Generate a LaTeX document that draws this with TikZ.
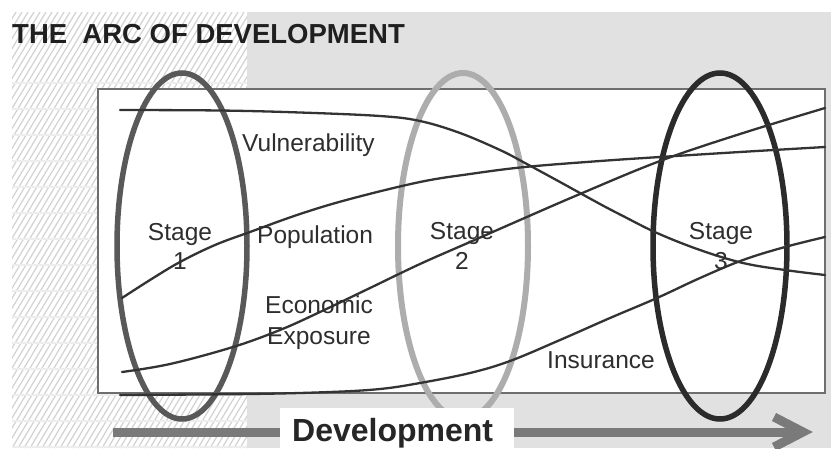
\documentclass[tikz,border=0pt]{standalone}
\usepackage{fontspec}
\setmainfont{Liberation Sans}
\definecolor{bggrey}{HTML}{E1E1E1}
\definecolor{hatchcol}{HTML}{D2D2D2}
\definecolor{boxline}{HTML}{6E6E6E}
\definecolor{stageA}{HTML}{595959}
\definecolor{stageB}{HTML}{ADADAD}
\definecolor{stageC}{HTML}{2B2B2B}
\definecolor{curvecol}{HTML}{333333}
\definecolor{textcol}{HTML}{2E2E2E}
\definecolor{arrowcol}{HTML}{7A7A7A}
\tikzset{
  stagering/.style={line width=5.5pt},
  curveline/.style={curvecol, line width=2.3pt, line cap=round},
  lbl/.style={anchor=base west, inner sep=0pt, text=textcol, font=\fontsize{24.5}{28}\selectfont},
  stagelbl/.style={anchor=base, inner sep=0pt, text=textcol, font=\fontsize{24.5}{28}\selectfont},
}
\begin{document}
\begin{tikzpicture}[x=1pt,y=-1pt]
\useasboundingbox (0,0) rectangle (831,448);
% background
\fill[white] (0,0) rectangle (831,448);
\fill[bggrey] (247,12) rectangle (831,448);
\begin{scope}
  \clip (12,12) rectangle (247,448);
  \foreach \i in {-300,-294,...,250} \draw[hatchcol, line width=1.2pt] (\i,448) -- ++(262,-436);
  \foreach \j in {83,109,...,448} \draw[white!60!hatchcol, line width=2pt] (12,\j) -- (247,\j);
\end{scope}
% title
\node[anchor=base west, inner sep=0pt, text=black!88, font=\fontsize{27.5}{30}\selectfont\bfseries] (title) at (12,43) {THE\ \ ARC OF DEVELOPMENT};
% main box
\draw[boxline, fill=white, line width=1.2pt] (98,89) rectangle (825,393);
% stage ellipses
\draw[stagering, stageA] (182,246) ellipse [x radius=65, y radius=173];
\draw[stagering, stageB, line width=6pt] (463,246) ellipse [x radius=65, y radius=173];
\draw[stagering, stageC] (720,246) ellipse [x radius=67, y radius=173];
% curves
\draw[curveline] plot[smooth, tension=0.6] coordinates {(120,110) (220,110.5) (300,112.5) (380,116) (420,121) (460,133) (500,150) (525,163) (560,182) (600,204) (623,216) (657,233) (700,250) (743,263) (785,270) (825,275)};
\draw[curveline] plot[smooth, tension=0.6] coordinates {(122,298) (150,280) (180,262) (215,245) (250,232) (300,214) (350,199) (420,182) (470,174) (525,167) (600,161) (660,157) (740,152) (825,147)};
\draw[curveline] plot[smooth, tension=0.6] coordinates {(122,372) (170,364) (233,347) (280,330) (320,312) (370,288) (420,264) (470,242) (520,220) (580,194) (660,161) (740,134) (825,108)};
\draw[curveline] plot[smooth, tension=0.6] coordinates {(120,395) (250,394) (330,392) (380,389) (420,383) (470,373) (510,361) (560,340) (610,318) (657,298) (700,278) (743,260) (785,247) (825,237)};
% labels
\node[lbl] (vul) at (242,151) {Vulnerability};
\node[lbl] (pop) at (257,243) {Population};
\node[lbl] (eco) at (265,313) {Economic};
\node[lbl] (exp) at (267,344) {Exposure};
\node[lbl] (ins) at (547,368) {Insurance};
\node[stagelbl] (s1a) at (180,240) {Stage};
\node[stagelbl] (s1b) at (180,269) {1};
\node[stagelbl] (s2a) at (462,239) {Stage};
\node[stagelbl] (s2b) at (462,269) {2};
\node[stagelbl] (s3a) at (721,239) {Stage};
\node[stagelbl] (s3b) at (721,269) {3};
% development arrow
\draw[arrowcol, line width=9pt] (113,432) -- (800,432);
\draw[arrowcol, line width=9pt, line join=miter] (774,417) -- (803,432) -- (774,447);
\fill[white] (280,408) rectangle (514,448);
\node[anchor=base west, inner sep=0pt, text=black!85, font=\fontsize{32}{36}\selectfont\bfseries] (dev) at (292,441) {Development};
\end{tikzpicture}
\end{document}
